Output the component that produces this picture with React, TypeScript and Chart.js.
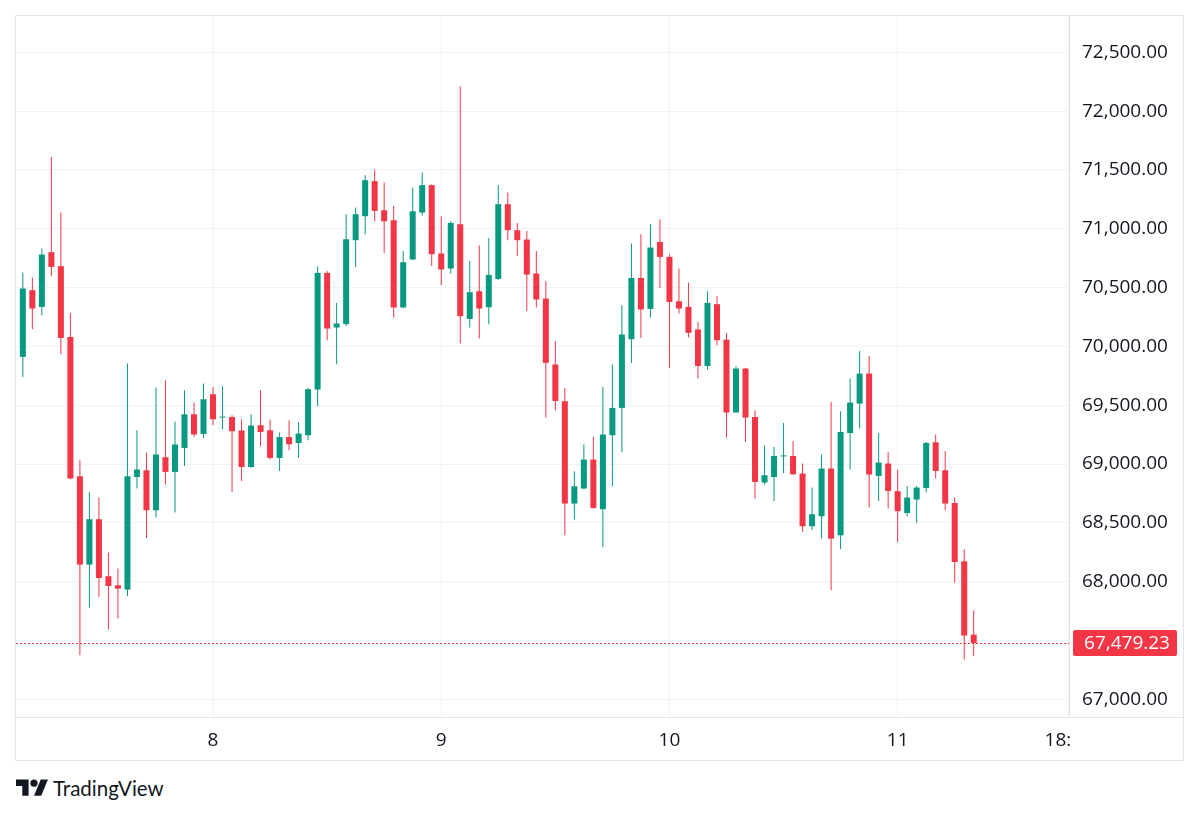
import React, { useEffect, useRef } from "react";
import { Chart, registerables } from "chart.js";

Chart.register(...registerables);

// Hour offsets from 7th 00:00 (hourly candles)
const hours = [
  4, 5, 6, 7, 8, 9, 10, 11, 12, 13, 14, 15, 16, 17, 18, 19, 20, 21, 22, 23,
  24, 25, 26, 27, 28, 29, 30, 31, 32, 33, 34, 35, 36, 37, 38, 39, 40, 41, 42, 43,
  44, 45, 46, 47, 48, 49, 50, 51, 52, 53, 54, 55, 56, 57, 58, 59, 60, 61, 62, 63,
  64, 65, 66, 67, 68, 69, 70, 71, 72, 73, 74, 75, 76, 77, 78, 79, 80, 81, 82, 83,
  84, 85, 86, 87, 88, 89, 90, 91, 92, 93, 94, 95, 96, 97, 98, 99, 100, 101, 102, 103,
  104,
];

const opens = [
  69911, 70478, 70336, 70801, 70682, 70081, 68896, 68145, 68531, 68046,
  67969, 67933, 68890, 68947, 68607, 69058, 68933, 69137, 69423, 69256,
  69593, 69395, 69400, 69285, 68975, 69330, 69287, 69052, 69230, 69179,
  69245, 69633, 70625, 70161, 70189, 70903, 71107, 71405, 71158, 71073,
  70331, 70739, 71138, 71371, 70790, 70662, 71039, 70234, 70469, 70333,
  70574, 71209, 70988, 70909, 70620, 70407, 69846, 69534, 68664, 68792,
  69038, 68616, 69245, 69477, 70061, 70582, 70319, 70888, 70761, 70384,
  70336, 70144, 69834, 70359, 70058, 69438, 69812, 69400, 68843, 68890,
  69065, 69069, 68919, 68471, 68556, 68962, 68394, 69264, 69514, 69769,
  68899, 69004, 68769, 68584, 68698, 68797, 69185, 68947, 68669, 68173,
  67550,
];

const highs = [
  70628, 70586, 70832, 71611, 71138, 70285, 69032, 68763, 68715, 68247,
  68111, 69854, 69287, 69098, 69650, 69712, 69361, 69627, 69523, 69684,
  69656, 69661, 69415, 69381, 69423, 69627, 69378, 69268, 69372, 69358,
  69647, 70682, 70642, 70370, 71124, 71181, 71456, 71504, 71394, 71195,
  70812, 71351, 71479, 71378, 71107, 71064, 72212, 70727, 70860, 70922,
  71373, 71308, 71050, 70982, 70812, 70557, 70047, 69647, 68939, 69166,
  69230, 69656, 69846, 70350, 70875, 70954, 71039, 71081, 70781, 70662,
  70543, 70208, 70469, 70427, 70115, 69831, 69818, 69457, 69160, 69145,
  69349, 69196, 69004, 68800, 69081, 69528, 69449, 69727, 69962, 69919,
  69264, 69103, 68953, 68814, 68814, 69188, 69251, 69111, 68715, 68275,
  67757,
];

const lows = [
  69741, 70146, 70265, 70597, 69934, 68870, 67374, 67780, 67870, 67595,
  67686, 67878, 68792, 68372, 68545, 68826, 68588, 68984, 69230, 69222,
  69330, 69296, 68763, 68856, 68968, 69151, 69038, 68941, 69117, 69052,
  69202, 69491, 70053, 69849, 70174, 70676, 70954, 71064, 70795, 70246,
  70325, 70735, 71110, 70684, 70520, 70620, 70024, 70161, 70067, 70189,
  70565, 70903, 70769, 70299, 70331, 69395, 69457, 68394, 68528, 68785,
  68620, 68295, 68811, 69103, 69860, 70072, 70246, 70497, 69817, 70280,
  70076, 69727, 69803, 70010, 69225, 69435, 69188, 68707, 68826, 68686,
  68924, 68910, 68423, 68437, 68366, 67927, 68275, 68953, 69302, 68630,
  68686, 68622, 68338, 68556, 68499, 68758, 68877, 68607, 67992, 67338,
  67366,
];

const closes = [
  70492, 70322, 70781, 70676, 70072, 68877, 68145, 68531, 68031, 67963,
  67941, 68896, 68953, 68607, 69081, 68933, 69166, 69423, 69251, 69551,
  69381, 69400, 69279, 68975, 69327, 69273, 69052, 69230, 69168, 69259,
  69636, 70625, 70152, 70195, 70911, 71124, 71413, 71152, 71064, 70331,
  70716, 71149, 71371, 70784, 70654, 71050, 70257, 70461, 70322, 70608,
  71209, 70988, 70903, 70611, 70399, 69860, 69536, 68664, 68811, 69038,
  68627, 69251, 69477, 70101, 70582, 70314, 70841, 70761, 70378, 70322,
  70115, 69834, 70370, 70053, 69438, 69812, 69395, 68848, 68905, 69069,
  69072, 68913, 68471, 68573, 68962, 68366, 69273, 69523, 69769, 68911,
  69013, 68771, 68599, 68715, 68800, 69179, 68941, 68664, 68167, 67542,
  67479.23,
];

const priceTicks = [67000, 67500, 68000, 68500, 69000, 69500, 70000, 70500, 71000, 71500, 72000, 72500];
const timeTickHours = [24, 48, 72, 96, 114];
const timeTickLabels = ["8", "9", "10", "11", "18:00"];
const lastPrice = 67479.23;

const UP = "#089981";
const DOWN = "#F23645";
const TEXT = "#131722";
const GRID = "#F0F3FA";
const BORDER = "#E0E3EB";
const FONT = "'Open Sans', sans-serif";

const fmt = (v: number) =>
  Number(v).toLocaleString("en-US", { minimumFractionDigits: 2, maximumFractionDigits: 2 });

export default function App() {
  const ref = useRef<HTMLCanvasElement>(null);

  useEffect(() => {
    if (!ref.current) return;
    const colors = opens.map((o, i) => (closes[i] >= o ? UP : DOWN));

    const pricePlugin = {
      id: "lastPriceLine",
      beforeDatasetsDraw(chart: any) {
        const { ctx, chartArea, scales } = chart;
        const y = Math.round(scales.y.getPixelForValue(lastPrice)) + 0.5;
        ctx.save();
        ctx.strokeStyle = DOWN;
        ctx.lineWidth = 1;
        ctx.setLineDash([2, 2]);
        ctx.beginPath();
        ctx.moveTo(chartArea.left, y);
        ctx.lineTo(chartArea.right, y);
        ctx.stroke();
        ctx.restore();
      },
      afterDraw(chart: any) {
        const { ctx, chartArea, scales } = chart;
        ctx.save();
        // clip the time label that runs under the price column
        ctx.fillStyle = "#ffffff";
        ctx.fillRect(chartArea.right + 3, chartArea.bottom + 1, 1183 - chartArea.right - 3, 42);
        // time axis separator continues under the price column
        ctx.strokeStyle = BORDER;
        ctx.lineWidth = 1;
        ctx.beginPath();
        ctx.moveTo(chartArea.right, Math.round(chartArea.bottom) + 0.5);
        ctx.lineTo(1183, Math.round(chartArea.bottom) + 0.5);
        ctx.stroke();
        // last price tag
        const y = scales.y.getPixelForValue(lastPrice);
        const x0 = chartArea.right + 4;
        const w = 104;
        const h = 26;
        ctx.fillStyle = DOWN;
        ctx.beginPath();
        if ((ctx as any).roundRect) (ctx as any).roundRect(x0, y - h / 2, w, h, 2);
        else ctx.rect(x0, y - h / 2, w, h);
        ctx.fill();
        ctx.fillStyle = "#ffffff";
        ctx.font = `19px ${FONT}`;
        ctx.textAlign = "center";
        ctx.textBaseline = "middle";
        ctx.fillText(fmt(lastPrice), x0 + w / 2 + 2, y + 1);
        ctx.restore();
      },
    };

    const chart = new Chart(ref.current, {
      type: "bar",
      data: {
        datasets: [
          {
            label: "wick",
            data: hours.map((h, i) => ({ x: h, y: [lows[i], highs[i]] })) as any,
            backgroundColor: colors,
            borderWidth: 0,
            grouped: false,
            maxBarThickness: 1,
            order: 2,
          } as any,
          {
            label: "body",
            data: hours.map((h, i) => ({ x: h, y: [opens[i], closes[i]] })) as any,
            backgroundColor: colors,
            borderWidth: 0,
            grouped: false,
            maxBarThickness: 6,
            minBarLength: 1,
            order: 1,
          } as any,
        ],
      },
      options: {
        animation: false,
        responsive: false,
        maintainAspectRatio: false,
        layout: { padding: { left: 16, top: 16, right: 17, bottom: 2 } },
        plugins: { legend: { display: false }, tooltip: { enabled: false } },
        scales: {
          x: {
            type: "linear",
            min: 3.28,
            max: 114.02,
            offset: false,
            afterBuildTicks: (s: any) => {
              s.ticks = timeTickHours.map((v) => ({ value: v }));
            },
            afterFit: (s: any) => {
              s.height = 43;
              s.paddingLeft = 0;
              s.paddingRight = 0;
            },
            grid: { color: GRID, drawTicks: false, offset: false },
            border: { color: BORDER },
            ticks: {
              autoSkip: false,
              maxRotation: 0,
              padding: 12,
              color: TEXT,
              font: { family: FONT, size: 19 },
              callback: (v: any) => {
                const i = timeTickHours.indexOf(Number(v));
                return i >= 0 ? timeTickLabels[i] : "";
              },
            },
          },
          y: {
            type: "linear",
            position: "right",
            min: 66849.5,
            max: 72809,
            afterBuildTicks: (s: any) => {
              s.ticks = priceTicks.map((v) => ({ value: v }));
            },
            afterFit: (s: any) => {
              s.width = 114;
              s.paddingTop = 0;
              s.paddingBottom = 0;
            },
            grid: { color: GRID, drawTicks: false },
            border: { color: BORDER },
            ticks: {
              padding: 13,
              color: TEXT,
              font: { family: FONT, size: 19 },
              callback: (v: any) => fmt(Number(v)),
            },
          },
        },
      } as any,
      plugins: [pricePlugin],
    });
    return () => chart.destroy();
  }, []);

  return (
    <div style={{ position: "absolute", left: 0, top: 0, width: 1200, height: 817, background: "#ffffff" }}>
      <canvas
        ref={ref}
        width={1200}
        height={762}
        style={{ position: "absolute", left: 0, top: 0, width: 1200, height: 762 }}
      />
      <div
        style={{
          position: "absolute",
          left: 15,
          top: 15,
          width: 1169,
          height: 746,
          border: `1px solid ${BORDER}`,
          boxSizing: "border-box",
          pointerEvents: "none",
        }}
      />
      <svg
        width={32.4}
        height={25.2}
        viewBox="0 0 36 28"
        style={{ position: "absolute", left: 16, top: 776.4 }}
      >
        <path d="M14 22H7V11H0V4h14v18z" fill={TEXT} />
        <path d="M28 22h-8l7.5-18h8L28 22z" fill={TEXT} />
        <circle cx="20" cy="8" r="4" fill={TEXT} />
      </svg>
      <div
        style={{
          position: "absolute",
          left: 53,
          top: 776,
          fontFamily: "Lato, sans-serif",
          fontSize: 20.5,
          lineHeight: "24px",
          color: TEXT,
          whiteSpace: "nowrap",
        }}
      >
        TradingView
      </div>
    </div>
  );
}
